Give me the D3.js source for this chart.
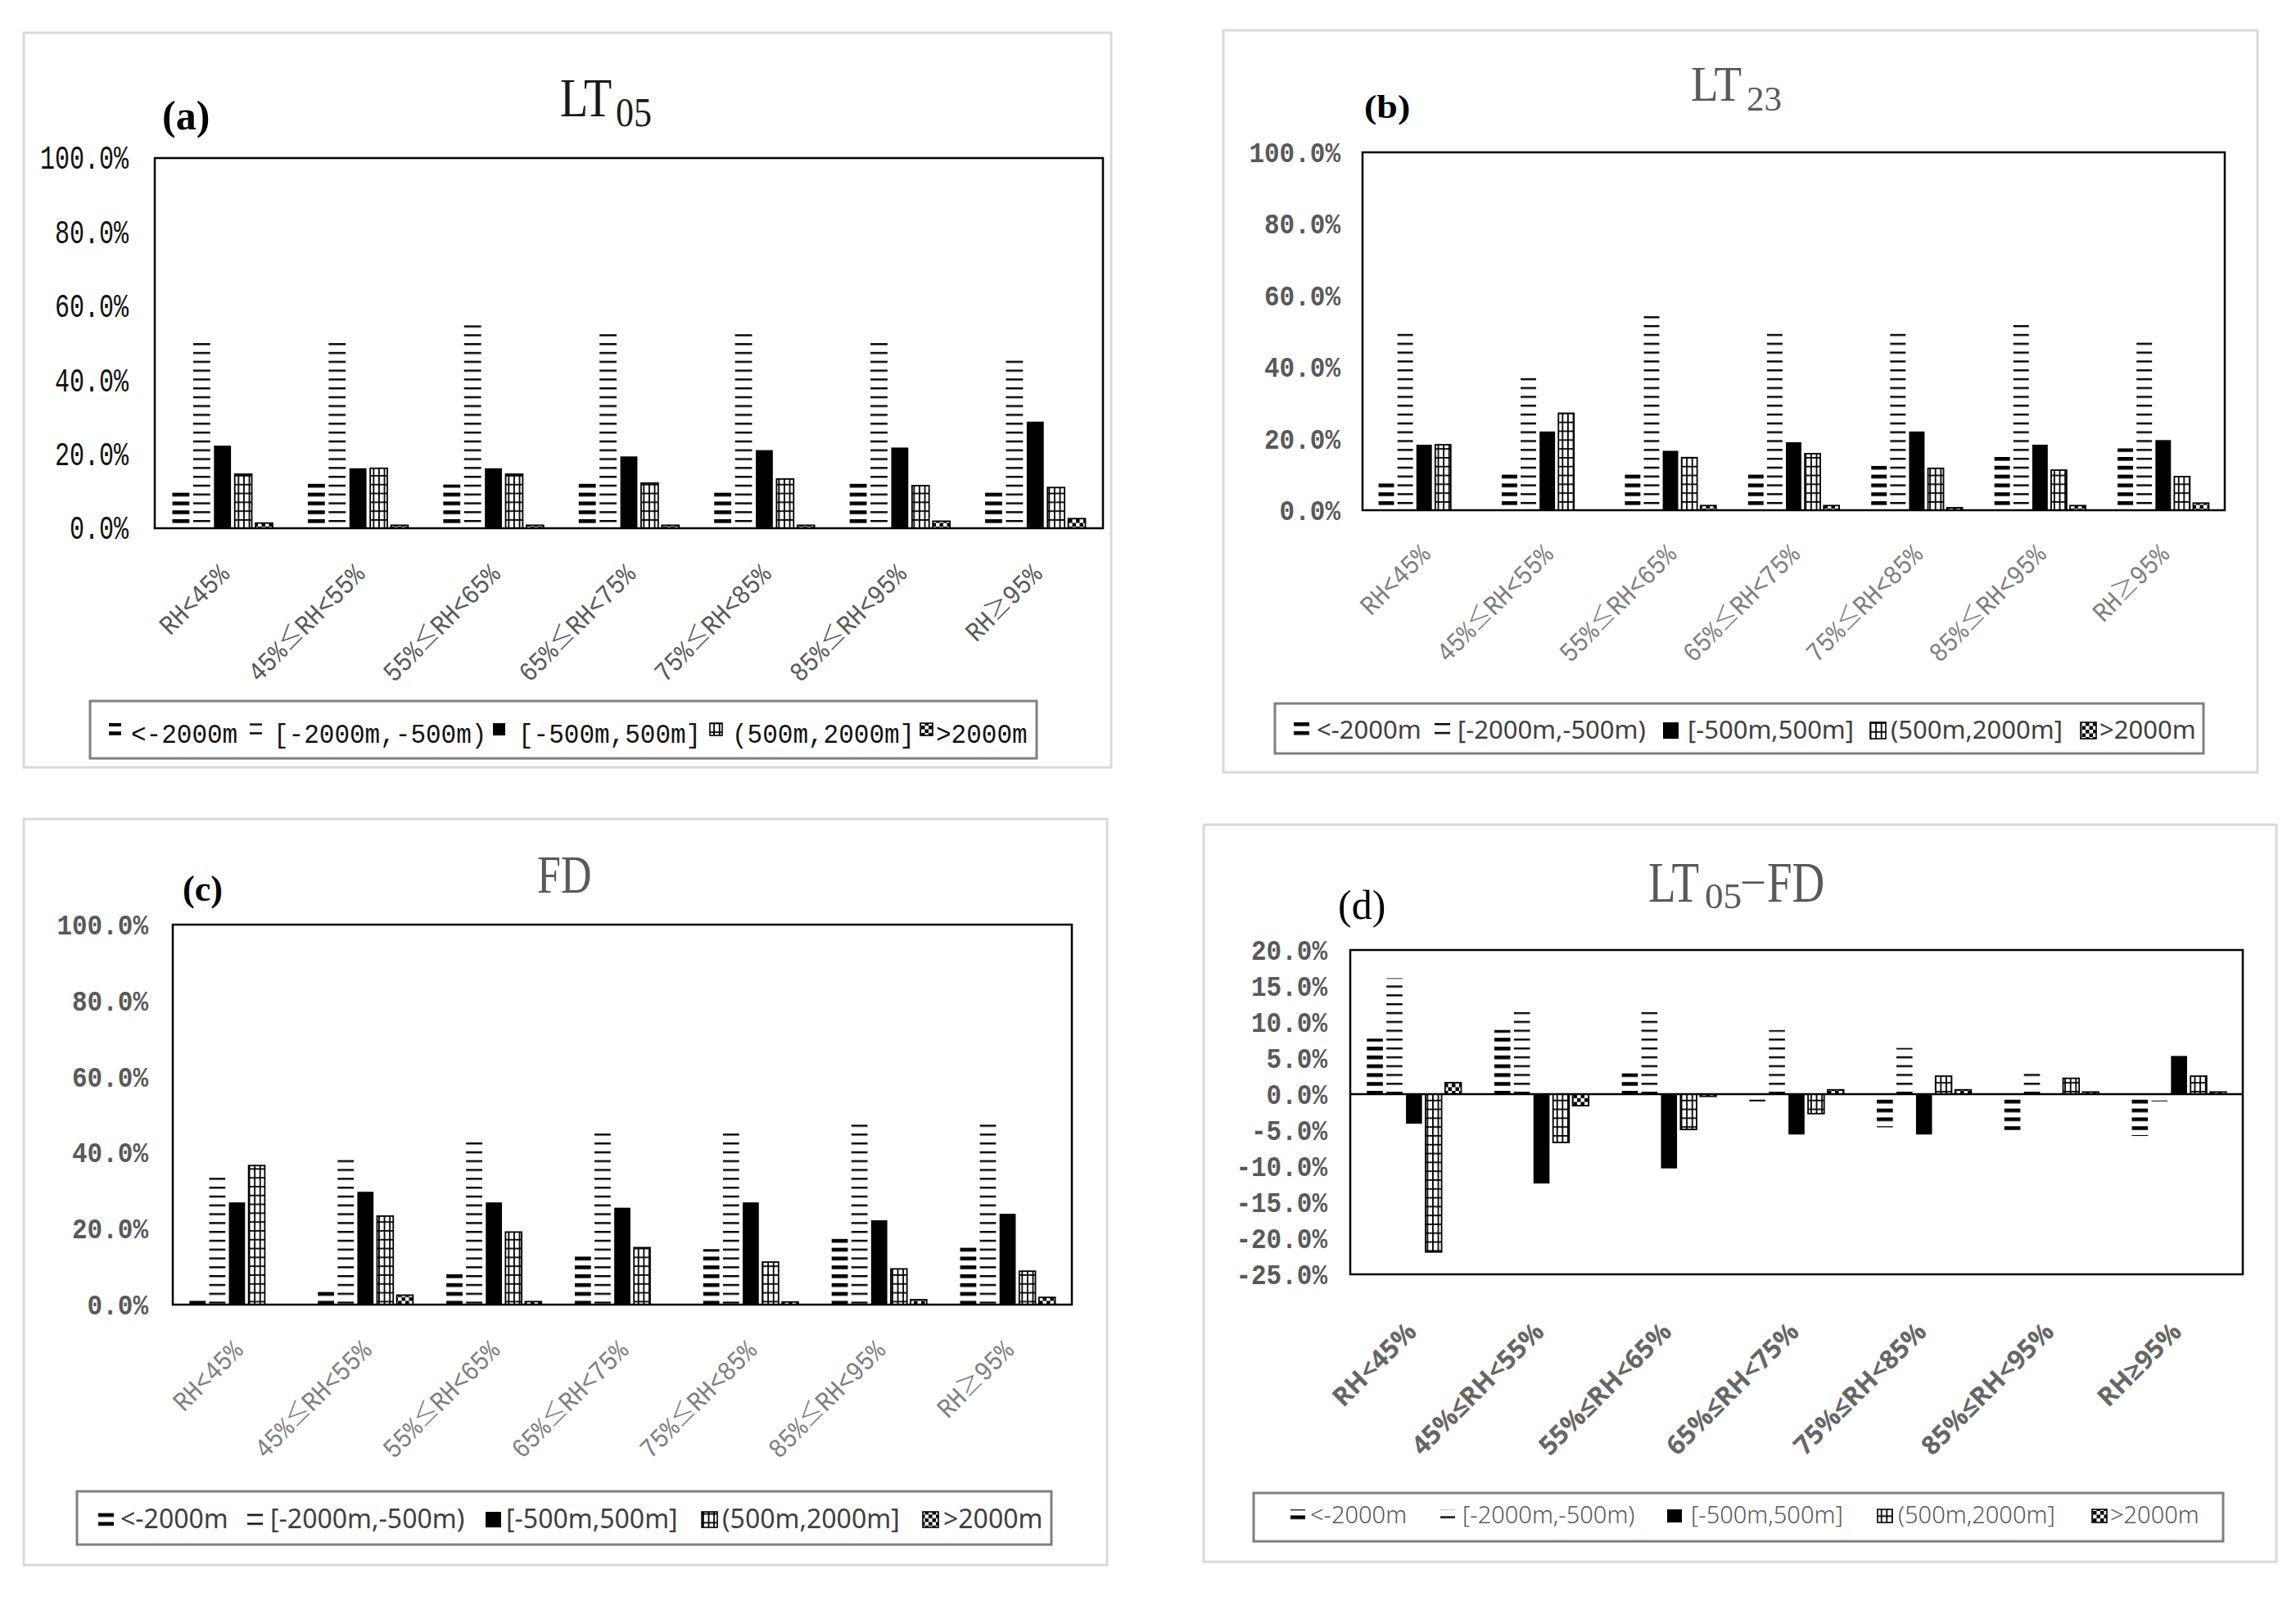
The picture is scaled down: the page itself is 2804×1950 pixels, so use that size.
<!DOCTYPE html>
<html>
<head>
<meta charset="utf-8">
<script src="https://cdn.jsdelivr.net/npm/d3@7"></script>
<style>
  body { margin: 0; background: #fff; }
</style>
</head>
<body>
<div id="chart"></div>
<script>
// categories and series
const categories = ["RH<45%", "45%≤RH<55%", "55%≤RH<65%", "65%≤RH<75%", "75%≤RH<85%", "85%≤RH<95%", "RH≥95%"];
const seriesNames = ["<-2000m", "[-2000m,-500m)", "[-500m,500m]", "(500m,2000m]", ">2000m"];

// values in %, one row per series, one column per category
const lt05Values = [
  [9.7, 12.2, 11.8, 12.2, 9.7, 12.2, 9.7],
  [51.0, 51.0, 55.8, 53.5, 53.5, 51.0, 46.3],
  [22.3, 16.2, 16.2, 19.4, 21.1, 21.8, 28.8],
  [14.6, 16.2, 14.6, 12.2, 13.3, 11.5, 11.0],
  [1.4, 0.8, 0.8, 0.8, 0.8, 1.9, 2.6]
];
const lt23Values = [
  [7.7, 10.3, 10.3, 10.3, 12.4, 15.0, 17.3],
  [50.2, 38.5, 54.8, 50.2, 50.2, 52.6, 47.8],
  [18.3, 22.0, 16.6, 19.0, 22.0, 18.3, 19.6],
  [18.3, 27.1, 14.7, 15.8, 11.7, 11.2, 9.4],
  [0, 0, 1.3, 1.3, 0.7, 1.3, 2.0]
];
const fdValues = [
  [1.3, 3.7, 8.4, 12.9, 14.6, 17.6, 15.2],
  [33.8, 38.4, 43.1, 45.3, 45.3, 47.6, 47.6],
  [26.9, 29.7, 26.9, 25.5, 26.9, 22.2, 23.9],
  [36.6, 23.3, 19.1, 15.0, 11.2, 9.4, 8.8],
  [0, 2.5, 0.8, 0, 0.7, 1.3, 1.9]
];
const diffValues = [
  [7.7, 8.9, 2.9, -1.0, -4.6, -5.0, -5.8],
  [16.1, 11.4, 11.4, 8.9, 6.4, 2.9, -1.0],
  [-4.1, -12.4, -10.3, -5.6, -5.6, 0, 5.3],
  [-21.9, -6.7, -4.9, -2.7, 2.5, 2.2, 2.5],
  [1.6, -1.6, -0.3, 0.6, 0.6, 0.3, 0.3]
];

const pctTicks = [0, 20, 40, 60, 80, 100];
const diffTicks = [20, 15, 10, 5, 0, -5, -10, -15, -20, -25];

var W = 2804, H = 1950;

var svg = d3.select("#chart")
  .append("svg")
    .attr("width", W)
    .attr("height", H);

var defs = svg.append("defs");

// layout of the four panels
var panels = [
  {
    id: "a", values: lt05Values, ticks: pctTicks, domain: [0, 100],
    frame: [29, 40, 1357, 937], plot: [189, 193, 1347, 645],
    tick: {ff: "Liberation Mono", fs: 30, fw: "normal", fill: "#111", sy: 1.35, pad: 32},
    cat: {ff: "Liberation Mono", fs: 29, fw: "normal", fill: "#595959", sy: 1.15, dx: 10, dy: 58, wide: true},
    tag: {s: "(a)", x: 198, y: 158, fs: 50, fw: "bold", sy: 1},
    title: [
      {s: "LT", x: 684, y: 142, fs: 56, sy: 1.22},
      {s: "05", x: 752, y: 154, fs: 44, sy: 1.15}
    ],
    titleFill: "#1a1a1a",
    legend: {box: [110, 856, 1266, 926], ff: "Liberation Mono", fs: 31, fw: "normal", fill: "#111", sy: 1.1,
             base: 907, my: 883, mw: 15, mh: 15,
             mx: [133, 305, 602, 867, 1124], tx: [160, 334, 633, 894, 1143]},
    phase: 11
  },
  {
    id: "b", values: lt23Values, ticks: pctTicks, domain: [0, 100],
    frame: [1494, 37, 2757, 943], plot: [1664, 186, 2717, 623],
    tick: {ff: "Liberation Mono", fs: 31, fw: "bold", fill: "#595959", sy: 1.15, pad: 27},
    cat: {ff: "Liberation Mono", fs: 29, fw: "normal", fill: "#7f7f7f", sy: 1.15, dx: 9, dy: 56, wide: true},
    tag: {s: "(b)", x: 1666, y: 144, fs: 46, fw: "bold", sy: 0.85},
    title: [
      {s: "LT", x: 2065, y: 123, fs: 55, sy: 1.1},
      {s: "23", x: 2133, y: 135, fs: 43, sy: 1.0}
    ],
    titleFill: "#595959",
    legend: {box: [1557, 859, 2691, 920], ff: "Noto Sans", fs: 31, fw: "normal", fill: "#404040", sy: 1,
             base: 902, my: 882, mw: 19, mh: 20,
             mx: [1580, 1752, 2031, 2284, 2541], tx: [1608, 1780, 2061, 2309, 2564]},
    phase: 11
  },
  {
    id: "c", values: fdValues, ticks: pctTicks, domain: [0, 100],
    frame: [29, 1000, 1352, 1911], plot: [211, 1129, 1309, 1593],
    tick: {ff: "Liberation Mono", fs: 31, fw: "bold", fill: "#595959", sy: 1.15, pad: 30},
    cat: {ff: "Liberation Mono", fs: 29, fw: "normal", fill: "#7f7f7f", sy: 1.15, dx: 9, dy: 58, wide: true},
    tag: {s: "(c)", x: 223, y: 1100, fs: 44, fw: "bold", sy: 1},
    title: [
      {s: "FD", x: 656, y: 1090, fs: 52, sy: 1.26}
    ],
    titleFill: "#595959",
    legend: {box: [94, 1821, 1284, 1886], ff: "Noto Sans", fs: 32, fw: "normal", fill: "#404040", sy: 1,
             base: 1866, my: 1846, mw: 19, mh: 19,
             mx: [120, 302, 593, 857, 1127], tx: [147, 330, 618, 882, 1152]},
    phase: 4.6
  },
  {
    id: "d", values: diffValues, ticks: diffTicks, domain: [-25, 20],
    frame: [1470, 1007, 2780, 1907], plot: [1649, 1160, 2739, 1556],
    tick: {ff: "Liberation Mono", fs: 31, fw: "bold", fill: "#595959", sy: 1.15, pad: 28},
    cat: {ff: "Open Sans", fs: 32, fw: "bold", fill: "#666", sy: 1, dx: 5, dy: 72, wide: false},
    tag: {s: "(d)", x: 1634, y: 1122, fs: 50, fw: "normal", sy: 1},
    title: [
      {s: "LT", x: 2013, y: 1101, fs: 55, sy: 1.27},
      {s: "05", x: 2082, y: 1109, fs: 45, sy: 1.0},
      {s: "–", x: 2128, y: 1090, fs: 52, sy: 1.0},
      {s: "FD", x: 2158, y: 1101, fs: 55, sy: 1.27}
    ],
    titleFill: "#595959",
    legend: {box: [1531, 1823, 2715, 1882], ff: "Noto Sans", fs: 29, fw: "300", fill: "#595959", sy: 1,
             base: 1860, my: 1843, mw: 18, mh: 16,
             mx: [1576, 1759, 2036, 2293, 2555], tx: [1600, 1786, 2065, 2318, 2577]},
    phase: 4
  }
];

// plain text helper (sy stretches glyphs vertically, like the tall CJK fonts of the original)
function txt(g, x, y, s, o) {
  var t = g.append("text")
    .attr("transform", "translate(" + x + "," + y + ")" + (o.sy && o.sy !== 1 ? " scale(1," + o.sy + ")" : ""))
    .attr("font-family", o.ff)
    .attr("font-size", o.fs)
    .attr("font-weight", o.fw || "normal")
    .attr("fill", o.fill || "#000")
    .attr("text-anchor", o.anchor || "start")
    .text(s);
  return t;
}

// hatch patterns, one set per panel so the phase follows its baseline
function makePatterns(p, y0) {
  // <-2000m : thick dashes
  var p1 = defs.append("pattern").attr("id", "p1" + p.id).attr("patternUnits", "userSpaceOnUse")
    .attr("width", 8).attr("height", 10.8).attr("patternTransform", "translate(0," + y0 + ")");
  p1.append("rect").attr("width", 8).attr("height", 10.8).attr("fill", "#fff");
  p1.append("rect").attr("width", 8).attr("height", 4.6).attr("fill", "#000");
  // [-2000m,-500m) : thin dashes
  var p2 = defs.append("pattern").attr("id", "p2" + p.id).attr("patternUnits", "userSpaceOnUse")
    .attr("width", 8).attr("height", 10.8).attr("patternTransform", "translate(0," + y0 + ")");
  p2.append("rect").attr("width", 8).attr("height", 10.8).attr("fill", "#fff");
  p2.append("rect").attr("y", 1).attr("width", 8).attr("height", 2.4).attr("fill", "#000");
  // (500m,2000m] : grid
  var p4 = defs.append("pattern").attr("id", "p4" + p.id).attr("patternUnits", "userSpaceOnUse")
    .attr("width", 6.6).attr("height", 10.8).attr("patternTransform", "translate(0," + y0 + ")");
  p4.append("rect").attr("width", 6.6).attr("height", 10.8).attr("fill", "#fff");
  p4.append("rect").attr("width", 1.8).attr("height", 10.8).attr("fill", "#000");
  p4.append("rect").attr("width", 6.6).attr("height", 1.8).attr("fill", "#000");
  // >2000m : checker
  var p5 = defs.append("pattern").attr("id", "p5" + p.id).attr("patternUnits", "userSpaceOnUse")
    .attr("width", 9).attr("height", 9).attr("patternTransform", "translate(0," + y0 + ")");
  p5.append("rect").attr("width", 9).attr("height", 9).attr("fill", "#fff");
  p5.append("rect").attr("width", 4.5).attr("height", 4.5).attr("fill", "#000");
  p5.append("rect").attr("x", 4.5).attr("y", 4.5).attr("width", 4.5).attr("height", 4.5).attr("fill", "#000");

  return [
    {fill: "url(#p1" + p.id + ")", stroke: "none"},
    {fill: "url(#p2" + p.id + ")", stroke: "none"},
    {fill: "#000", stroke: "none"},
    {fill: "url(#p4" + p.id + ")", stroke: "#000"},
    {fill: "url(#p5" + p.id + ")", stroke: "#000"}
  ];
}

panels.forEach(function(p) {
  var g = svg.append("g").attr("class", "panel-" + p.id);
  var fr = p.frame, pl = p.plot;

  // outer panel border
  g.append("rect")
    .attr("x", fr[0]).attr("y", fr[1])
    .attr("width", fr[2] - fr[0]).attr("height", fr[3] - fr[1])
    .attr("fill", "#fff").attr("stroke", "#d9d9d9").attr("stroke-width", 3);

  // scales
  var x0 = d3.scaleBand().domain(categories).range([pl[0], pl[2]]);
  var bw = x0.bandwidth();
  var x1 = d3.scaleBand().domain(seriesNames).range([bw * 0.13, bw * 0.87]).paddingInner(0.18);
  var y = d3.scaleLinear().domain(p.domain).range([pl[3], pl[1]]);

  var base = y(Math.max(0, p.domain[0]));
  var styles = makePatterns(p, base - p.phase);

  // bars
  seriesNames.forEach(function(name, si) {
    var rows = p.values[si].map(function(v, ci) { return {cat: categories[ci], v: v}; });
    g.append("g").selectAll("rect")
      .data(rows.filter(function(d) { return d.v !== 0; }))
      .enter()
      .append("rect")
        .attr("x", function(d) { return x0(d.cat) + x1(name); })
        .attr("y", function(d) { return Math.min(y(d.v), y(0)); })
        .attr("width", x1.bandwidth())
        .attr("height", function(d) { return Math.abs(y(d.v) - y(0)); })
        .attr("fill", styles[si].fill)
        .attr("stroke", styles[si].stroke)
        .attr("stroke-width", 1.8);
  });

  // zero line when the axis crosses zero
  if (p.domain[0] < 0) {
    g.append("line")
      .attr("x1", pl[0]).attr("x2", pl[2])
      .attr("y1", y(0)).attr("y2", y(0))
      .attr("stroke", "#000").attr("stroke-width", 2.5);
  }

  // plot frame
  g.append("rect")
    .attr("x", pl[0]).attr("y", pl[1])
    .attr("width", pl[2] - pl[0]).attr("height", pl[3] - pl[1])
    .attr("fill", "none").attr("stroke", "#000").attr("stroke-width", 2.5);

  // y axis labels
  var yAxis = g.append("g")
    .attr("transform", "translate(" + pl[0] + ",0)")
    .call(d3.axisLeft(y).tickValues(p.ticks).tickSize(0).tickPadding(p.tick.pad)
      .tickFormat(function(d) { return d.toFixed(1) + "%"; }));
  yAxis.select(".domain").remove();
  yAxis.selectAll("text")
    .attr("font-family", p.tick.ff)
    .attr("font-size", p.tick.fs)
    .attr("font-weight", p.tick.fw)
    .attr("fill", p.tick.fill)
    .attr("transform", "scale(1," + p.tick.sy + ")");

  // category labels, rotated
  var xAxis = g.append("g")
    .attr("transform", "translate(0," + pl[3] + ")")
    .call(d3.axisBottom(x0).tickSize(0));
  xAxis.select(".domain").remove();
  xAxis.selectAll("text")
    .attr("y", 0).attr("dy", 0)
    .attr("text-anchor", "end")
    .attr("font-family", p.cat.ff)
    .attr("font-size", p.cat.fs)
    .attr("font-weight", p.cat.fw)
    .attr("fill", p.cat.fill)
    .attr("transform", "translate(" + p.cat.dx + "," + p.cat.dy + ") rotate(-45) scale(1," + p.cat.sy + ")");

  // full-width ≤ / ≥ as in the CJK font of the original
  if (p.cat.wide) {
    xAxis.selectAll("text").each(function(d) {
      var t = d3.select(this);
      t.text(null);
      d.split(/([≤≥])/).forEach(function(part) {
        if (!part) return;
        var ts = t.append("tspan").text(part);
        if (part === "≤" || part === "≥") {
          ts.attr("font-family", "Noto Sans CJK JP").attr("font-weight", "300");
        }
      });
    });
  }

  // panel tag and title
  txt(g, p.tag.x, p.tag.y, p.tag.s, {ff: "Liberation Serif", fs: p.tag.fs, fw: p.tag.fw, fill: "#000", sy: p.tag.sy});
  p.title.forEach(function(t) {
    txt(g, t.x, t.y, t.s, {ff: "Liberation Serif", fs: t.fs, fill: p.titleFill, sy: t.sy});
  });

  // legend
  var lg = p.legend;
  g.append("rect")
    .attr("x", lg.box[0]).attr("y", lg.box[1])
    .attr("width", lg.box[2] - lg.box[0]).attr("height", lg.box[3] - lg.box[1])
    .attr("fill", "#fff").attr("stroke", "#808080").attr("stroke-width", 3);
  seriesNames.forEach(function(name, si) {
    g.append("rect")
      .attr("x", lg.mx[si]).attr("y", lg.my)
      .attr("width", lg.mw).attr("height", lg.mh)
      .attr("fill", styles[si].fill)
      .attr("stroke", styles[si].stroke)
      .attr("stroke-width", 1.6);
    txt(g, lg.tx[si], lg.base, name, {ff: lg.ff, fs: lg.fs, fw: lg.fw, fill: lg.fill, sy: lg.sy});
  });
});
</script>
</body>
</html>
